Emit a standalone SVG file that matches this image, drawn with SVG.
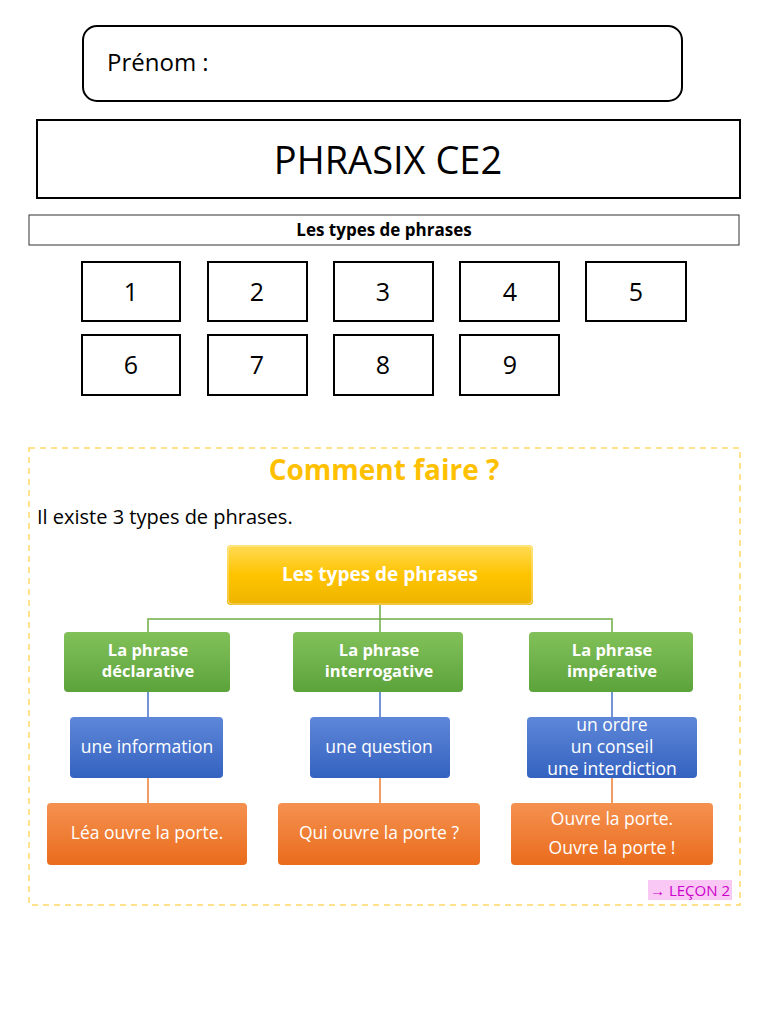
<svg xmlns="http://www.w3.org/2000/svg" width="768" height="1024" viewBox="0 0 768 1024">
<defs>
<linearGradient id="gy" x1="0" y1="0" x2="0" y2="1"><stop offset="0" stop-color="#FFDA55"/><stop offset="0.5" stop-color="#FFC400"/><stop offset="1" stop-color="#EDB400"/></linearGradient>
<linearGradient id="gg" x1="0" y1="0" x2="0" y2="1"><stop offset="0" stop-color="#82C15A"/><stop offset="1" stop-color="#5CA33B"/></linearGradient>
<linearGradient id="gb" x1="0" y1="0" x2="0" y2="1"><stop offset="0" stop-color="#5E87D8"/><stop offset="1" stop-color="#3462C0"/></linearGradient>
<linearGradient id="go" x1="0" y1="0" x2="0" y2="1"><stop offset="0" stop-color="#F59150"/><stop offset="1" stop-color="#EA6C1C"/></linearGradient>
</defs>
<style>
text{font-family:"Open Sans","Noto Sans","Liberation Sans",sans-serif}
.box{fill:#fff;stroke:#000;stroke-width:2}
.num{font-size:25px;text-anchor:middle;fill:#000}
.w{fill:#fff;text-anchor:middle}
.b{font-weight:bold}
.lg{stroke:#70AD47;stroke-width:1.5;fill:none}
.lb{stroke:#4472C4;stroke-width:1.5;fill:none}
.lo{stroke:#ED7D31;stroke-width:1.5;fill:none}
.n{stroke:#fff;stroke-opacity:0.5;stroke-width:1}
</style>
<rect width="768" height="1024" fill="#fff"/>
<g id="prenom"><rect x="83" y="26" width="599" height="75" rx="14" class="box"/><text x="107" y="71" font-size="24" fill="#000">Prénom :</text></g>
<g id="title"><rect x="37" y="120" width="703" height="78" class="box" stroke-width="2.5"/><text x="388" y="174" font-size="38" text-anchor="middle" fill="#000">PHRASIX CE2</text></g>
<g id="subtitle"><rect x="29" y="215" width="710" height="30" fill="#fff" stroke="#333" stroke-width="1"/><text x="384" y="236" font-size="17" class="b" text-anchor="middle" fill="#000">Les types de phrases</text></g>
<g id="numbers">
<rect x="82" y="262" width="98" height="59" class="box"/><text x="131" y="301" class="num">1</text>
<rect x="208" y="262" width="99" height="59" class="box"/><text x="257" y="301" class="num">2</text>
<rect x="334" y="262" width="99" height="59" class="box"/><text x="383" y="301" class="num">3</text>
<rect x="460" y="262" width="99" height="59" class="box"/><text x="510" y="301" class="num">4</text>
<rect x="586" y="262" width="100" height="59" class="box"/><text x="636" y="301" class="num">5</text>
<rect x="82" y="335" width="98" height="60" class="box"/><text x="131" y="374" class="num">6</text>
<rect x="208" y="335" width="99" height="60" class="box"/><text x="257" y="374" class="num">7</text>
<rect x="334" y="335" width="99" height="60" class="box"/><text x="383" y="374" class="num">8</text>
<rect x="460" y="335" width="99" height="60" class="box"/><text x="510" y="374" class="num">9</text>
</g>
<g id="frame"><rect x="29" y="448" width="711" height="457" fill="none" stroke="#FFC000" stroke-opacity="0.6" stroke-width="1.5" stroke-dasharray="6,5"/>
<text x="384" y="480" font-size="28" class="b" text-anchor="middle" fill="#FFC000">Comment faire ?</text>
<text x="37" y="524" font-size="20" fill="#000">Il existe 3 types de phrases.</text></g>
<g id="connectors">
<path class="lg" d="M380 605V632M148 632V619H612V632"/>
<path class="lb" d="M148 692V717M380 692V717M612 692V717"/>
<path class="lo" d="M148 778V803M380 778V803M612 778V803"/>
</g>
<g id="root"><rect x="227" y="545" width="306" height="60" rx="4" fill="url(#gy)"/><rect x="228" y="546" width="304" height="58" rx="4" fill="none" class="n"/><text x="380" y="581" font-size="19" class="w b">Les types de phrases</text></g>
<g id="g1"><rect x="64" y="632" width="166" height="60" rx="4" fill="url(#gg)"/><text x="148" y="656" font-size="16.5" class="w b">La phrase</text><text x="148" y="677" font-size="16.5" class="w b">déclarative</text></g>
<g id="g2"><rect x="293" y="632" width="170" height="60" rx="4" fill="url(#gg)"/><text x="379" y="656" font-size="16.5" class="w b">La phrase</text><text x="379" y="677" font-size="16.5" class="w b">interrogative</text></g>
<g id="g3"><rect x="529" y="632" width="164" height="60" rx="4" fill="url(#gg)"/><text x="612" y="656" font-size="16.5" class="w b">La phrase</text><text x="612" y="677" font-size="16.5" class="w b">impérative</text></g>
<g id="b1"><rect x="70" y="717" width="153" height="61" rx="4" fill="url(#gb)"/><text x="147" y="753" font-size="17.5" class="w">une information</text></g>
<g id="b2"><rect x="310" y="717" width="140" height="61" rx="4" fill="url(#gb)"/><text x="379" y="753" font-size="17.5" class="w">une question</text></g>
<g id="b3"><rect x="527" y="717" width="170" height="61" rx="4" fill="url(#gb)"/><text x="612" y="731" font-size="17.5" class="w">un ordre</text><text x="612" y="753" font-size="17.5" class="w">un conseil</text><text x="612" y="775" font-size="17.5" class="w">une interdiction</text></g>
<g id="o1"><rect x="47" y="803" width="200" height="62" rx="4" fill="url(#go)"/><text x="147" y="839" font-size="17.5" class="w">Léa ouvre la porte.</text></g>
<g id="o2"><rect x="278" y="803" width="202" height="62" rx="4" fill="url(#go)"/><text x="379" y="839" font-size="17.5" class="w">Qui ouvre la porte ?</text></g>
<g id="o3"><rect x="511" y="803" width="202" height="62" rx="4" fill="url(#go)"/><text x="612" y="825" font-size="17.5" class="w">Ouvre la porte.</text><text x="612" y="854" font-size="17.5" class="w">Ouvre la porte !</text></g>
<g id="lecon"><rect x="648" y="880" width="84" height="20" fill="#F9C8F4"/><text x="690" y="896" font-size="15" text-anchor="middle" fill="#CC00CC">→ LEÇON 2</text></g>
</svg>
